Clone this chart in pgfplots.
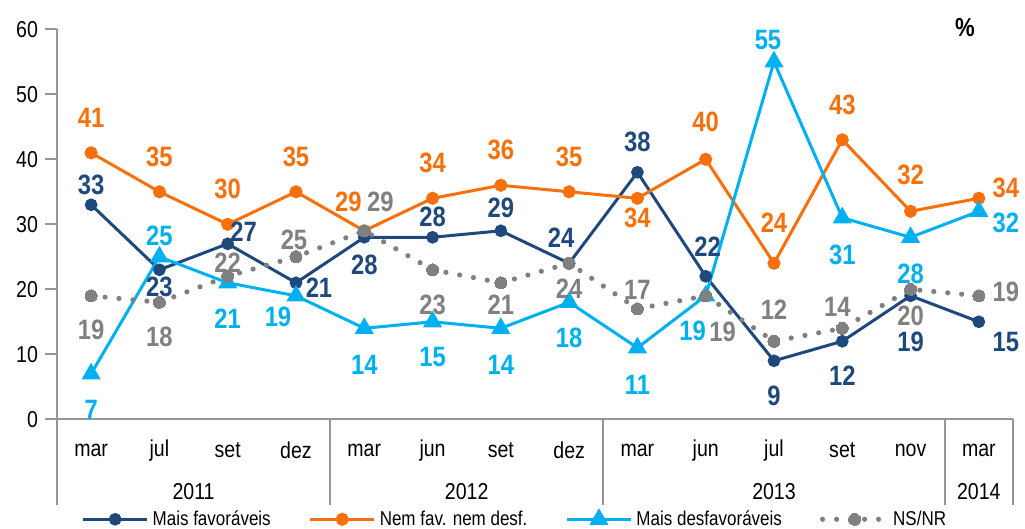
\documentclass[border=0pt]{standalone}
\usepackage{fontspec}
\setmainfont{Liberation Sans}[FakeStretch=0.85]
\usepackage{pgfplots}
\pgfplotsset{compat=1.18}
\usepackage{pgfplotstable}

\definecolor{cDark}{RGB}{31,73,125}
\definecolor{cOrange}{RGB}{247,112,12}
\definecolor{cLight}{RGB}{0,176,240}
\definecolor{cGray}{RGB}{128,128,128}
\definecolor{cAxis}{RGB}{150,150,150}

% x  y  dx dy  (dx, dy: label offset in pt)
\pgfplotstableread{
x y dx dy
0 33 0 10
1 23 0 -8.5
2 27 8 6
3 21 11.5 -2.5
4 28 0 -14
5 28 0 10
6 29 0 11.5
7 24 -4 13
8 38 0 15
9 22 1 15
10 9 0 -17.5
11 12 0 -17
12 19 0 -23
13 15 13.5 -10
}\favor
\pgfplotstableread{
x y dx dy
0 41 0 17.5
1 35 0 17.5
2 30 0 17.5
3 35 0 17.5
4 29 -8 14.5
5 34 0 17.5
6 36 0 17.5
7 35 0 17.5
8 34 0 -10
9 40 0 18.5
10 24 0 20.5
11 43 0 17.5
12 32 0 18
13 34 13.5 5
}\nemfav
\pgfplotstableread{
x y dx dy
0 7 0 -18
1 25 0 10.5
2 21 0 -18
3 19 -9 -10.5
4 14 0 -18.5
5 15 0 -17.5
6 14 0 -18.5
7 18 0 -18
8 11 0 -18.5
9 19 -6.5 -17.5
10 55 -3 11
11 31 0 -18.5
12 28 0 -18.5
13 32 13.5 -6
}\desfav
\pgfplotstableread{
x y dx dy
0 19 0 -17
1 18 0 -17.5
2 22 0 7
3 25 -1 8.5
4 29 8 14.5
5 23 0 -17.5
6 21 0 -11
7 24 0 -12.5
8 17 0 9.5
9 19 8.5 -18
10 12 0 16
11 14 -2.5 10.5
12 20 0 -13.5
13 19 13.5 2
}\nsnr

\pgfplotsset{
  vlabels/.style={forget plot, draw=none, mark=none,
    point meta=explicit symbolic,
    nodes near coords,
    visualization depends on={\thisrow{dx}\as\ldx},
    visualization depends on={\thisrow{dy}\as\ldy},
    every node near coord/.append style={anchor=center, xshift=\ldx pt, yshift=\ldy pt,
        font=\fontsize{14}{16}\selectfont\bfseries, text=#1}},
}

\begin{document}
\begin{tikzpicture}
\path[use as bounding box] (-28.5pt,-54.85pt) rectangle (484pt,209.65pt);
\begin{axis}[
    at={(0,0)}, anchor=south west,
    scale only axis, width=478pt, height=195pt,
    xmin=-0.5, xmax=13.5, ymin=0, ymax=60,
    axis lines*=left,
    axis line style={cAxis, line width=1pt},
    clip=false,
    xtick={0,...,13},
    xticklabels={mar,jul,set,dez,mar,jun,set,dez,mar,jun,jul,set,nov,mar},
    xtick style={draw=none},
    xticklabel style={anchor=center, yshift=-9.5pt, font=\fontsize{11.5}{13}\selectfont},
    ytick={0,10,...,60},
    ytick style={cAxis, line width=1pt},
    tick align=outside,
    major tick length=6pt,
    yticklabel style={font=\fontsize{11.5}{13}\selectfont},
    /pgf/number format/assume math mode=true,
    legend columns=4,
    legend style={draw=none, fill=none, at={(0.48,0)}, anchor=center, yshift=-50pt,
        font=\fontsize{10}{12}\selectfont,
        /tikz/every even column/.append style={column sep=17pt},
        inner sep=0pt, nodes={inner sep=2pt}},
    legend image code/.code={\draw[mark repeat=2,mark phase=2] plot coordinates {(0pt,0pt) (16pt,0pt) (32pt,0pt)};},
]
\addplot[cDark, line width=1.5pt, mark=*, mark size=2.4pt]
    table[x=x, y=y]{\favor};
\addlegendentry{Mais favoráveis}
\addplot[cOrange, line width=1.5pt, mark=*, mark size=2.5pt]
    table[x=x, y=y]{\nemfav};
\addlegendentry{Nem fav. nem desf.}
\addplot[cLight, line width=1.5pt, mark=triangle*, mark size=4pt]
    table[x=x, y=y]{\desfav};
\addlegendentry{Mais desfavoráveis}
\addplot[cGray, line width=2.6pt, line cap=round, dash pattern=on 0pt off 7pt,
    mark=*, mark size=3pt, mark options={solid, line width=0pt}]
    table[x=x, y=y]{\nsnr};
\addlegendentry{NS/NR}

\addplot[vlabels=cDark] table[x=x, y=y, meta=y]{\favor};
\addplot[vlabels=cOrange] table[x=x, y=y, meta=y]{\nemfav};
\addplot[vlabels=cLight] table[x=x, y=y, meta=y]{\desfav};
\addplot[vlabels=cGray] table[x=x, y=y, meta=y]{\nsnr};

\draw[cAxis, line width=1pt] (axis cs:-0.5,0) -- ++(0pt,-43pt);
\draw[cAxis, line width=1pt] (axis cs:3.5,0) -- ++(0pt,-43pt);
\draw[cAxis, line width=1pt] (axis cs:7.5,0) -- ++(0pt,-43pt);
\draw[cAxis, line width=1pt] (axis cs:12.5,0) -- ++(0pt,-43pt);
\draw[cAxis, line width=1pt] (axis cs:13.5,0) -- ++(0pt,-43pt);
\node[font=\fontsize{11.5}{13}\selectfont, yshift=-36pt] at (axis cs:1.5,0) {2011};
\node[font=\fontsize{11.5}{13}\selectfont, yshift=-36pt] at (axis cs:5.5,0) {2012};
\node[font=\fontsize{11.5}{13}\selectfont, yshift=-36pt] at (axis cs:10,0) {2013};
\node[font=\fontsize{11.5}{13}\selectfont, yshift=-36pt] at (axis cs:13,0) {2014};
\end{axis}
\node[font=\fontsize{13}{15}\selectfont\bfseries] at (454pt,196pt) {\%};
\end{tikzpicture}
\end{document}
